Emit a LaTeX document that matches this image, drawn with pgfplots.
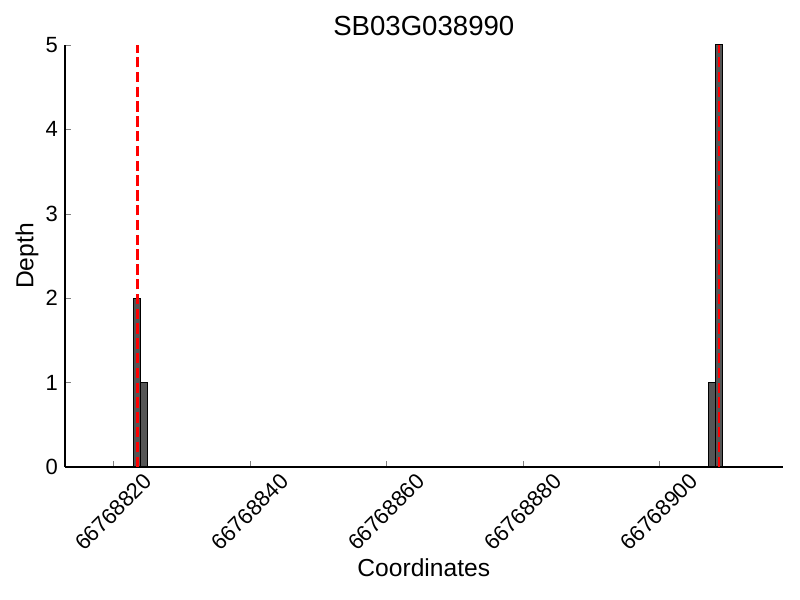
\documentclass[border=0pt]{standalone}
\usepackage{fontspec}
\setmainfont{Liberation Sans}
\usepackage{pgfplots}
\pgfplotsset{compat=1.18}
\pgfplotsset{every axis title shift=0pt}
\definecolor{barfill}{RGB}{85,85,85}
\begin{document}
\begin{tikzpicture}
\useasboundingbox (-32.5pt,-66.5pt) rectangle (367.5pt,233.5pt);
\begin{axis}[
  at={(0,0)}, anchor=south west,
  scale only axis,
  width=358.8pt, height=211pt,
  xmin=12.92, xmax=118.08,
  ymin=0, ymax=5,
  axis x line*=bottom, axis y line*=left,
  tick align=inside,
  major tick length=3pt,
  xtick={20,40,60,80,100},
  xticklabels={66768820,66768840,66768860,66768880,66768900},
  ytick={0,1,2,3,4,5},
  /pgf/number format/assume math mode=true,
  tick label style={font=\fontsize{11}{13}\selectfont},
  xticklabel style={anchor=center, yshift=-22.5pt, rotate=45},
  title={SB03G038990},
  title style={font=\fontsize{13.8}{16}\selectfont, at={(axis description cs:0.5,1.0237)}, anchor=base},
  xlabel={Coordinates},
  ylabel={Depth},
  label style={font=\fontsize{12.3}{14}\selectfont},
  xlabel style={at={(axis description cs:0.5,0)}, anchor=center, yshift=-50.5pt},
  ylabel style={at={(axis description cs:-0.053,0.5)}, anchor=center},
  axis line style={line width=0.6pt},
]
\addplot[ybar interval, fill=barfill, draw=black, line width=0.5pt]
  coordinates {(22.90,2) (23.93,1) (24.96,0)};
\addplot[ybar interval, fill=barfill, draw=black, line width=0.5pt]
  coordinates {(107.24,1) (108.27,5) (109.30,0)};
\addplot[red, line width=1.4pt, dash pattern=on 5.2pt off 2.2pt]
  coordinates {(23.5,0) (23.5,5)};
\addplot[red, line width=1.4pt, dash pattern=on 5.2pt off 2.2pt]
  coordinates {(108.75,0) (108.75,5)};
\end{axis}
\end{tikzpicture}
\end{document}
